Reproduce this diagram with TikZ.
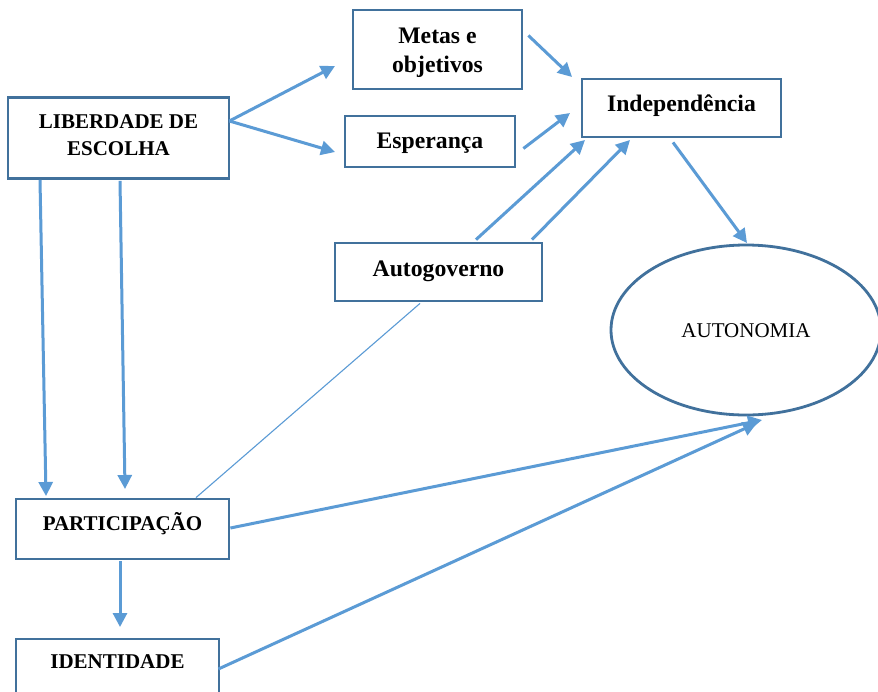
\documentclass[tikz,border=0pt]{standalone}
\usepackage{fontspec}
\setmainfont{Liberation Serif}
\usetikzlibrary{arrows.meta,shapes.geometric,calc}
\definecolor{arr}{HTML}{5B9BD5}
\definecolor{bord}{HTML}{41719C}
\newcommand{\placetext}[2]{\smash{\raisebox{#1}{#2}}}
\begin{document}
\begin{tikzpicture}[x=1pt,y=-1pt,
 box/.style={draw=bord,line width=2.8pt,rectangle,inner sep=0pt,align=center,font=\fontsize{23.7}{29.4}\selectfont\bfseries},
 capbox/.style={box,font=\fontsize{21}{26.7}\selectfont\bfseries},
 arrow/.style={draw=arr,line width=3pt,-{Triangle[length=14pt,width=14pt]}},
 thinline/.style={draw=arr,line width=1.1pt}]
\useasboundingbox (0,0) rectangle (878,691);
\clip (0,0) rectangle (878,691);
\fill[white] (0,0) rectangle (878,691);
% nodes
\node[capbox,minimum width=221pt,minimum height=81pt] (lib) at (118.5,138) {\placetext{-17pt}{\begin{tabular}[b]{@{}c@{}}LIBERDADE DE\\ESCOLHA\end{tabular}}};
\node[box,minimum width=169pt,minimum height=79pt] (metas) at (437.5,49.5) {\placetext{-23.2pt}{\begin{tabular}[b]{@{}c@{}}Metas e\\objetivos\end{tabular}}};
\node[box,minimum width=170pt,minimum height=51pt] (esp) at (430,141.5) {\placetext{-6.8pt}{Esperança}};
\node[box,minimum width=199pt,minimum height=58pt] (indep) at (681.5,108) {\placetext{-3.7pt}{Independência}};
\node[box,minimum width=207pt,minimum height=58pt] (auto) at (438.5,272) {\placetext{-4pt}{Autogoverno}};
\node[draw=bord,line width=2.8pt,ellipse,inner sep=0pt,minimum width=270pt,minimum height=170pt,font=\fontsize{21}{25}\selectfont] (auton) at (746,330) {\placetext{-7.7pt}{AUTONOMIA}};
\node[capbox,minimum width=213pt,minimum height=60pt] (part) at (122.5,529) {\placetext{-1pt}{PARTICIPAÇÃO}};
\node[capbox,minimum width=203pt,minimum height=64pt] (ident) at (117.5,671) {\placetext{2.7pt}{IDENTIDADE}};
% arrow tips
\coordinate (t1) at (335,66);
\coordinate (t2) at (335,152);
\coordinate (t3) at (572,77);
\coordinate (t4) at (570,113);
\coordinate (t5) at (585,140);
\coordinate (t6) at (630,140);
\coordinate (t7) at (747,243);
\coordinate (t8) at (46,496);
\coordinate (t9) at (125,489);
\coordinate (t11) at (762,420);
\coordinate (t13) at (757,423);
\coordinate (t12) at (120,627);
% connectors
\draw[arrow] ($(lib.east)+(-1,-17)$) -- (t1);
\draw[arrow] ($(lib.east)+(-1,-17)$) -- (t2);
\draw[arrow] ($(metas.east)+(5,-14)$) -- (t3);
\draw[arrow] ($(esp.east)+(7,7)$) -- (t4);
\draw[arrow] ($(auto.north)+(37.5,-2)$) -- (t5);
\draw[arrow] ($(auto.north)+(93.5,-2)$) -- (t6);
\draw[arrow] ($(indep.south)+(-8.5,4)$) -- (t7);
\draw[arrow] ($(lib.south)+(-78.5,0)$) -- (t8);
\draw[arrow] ($(lib.south)+(1.5,1)$) -- (t9);
\draw[thinline] ($(auto.south)+(-18.5,1)$) -- ($(part.north)+(73.5,0)$);
\draw[arrow] ($(part.east)+(0,-1)$) -- (t11);
\draw[arrow] ($(part.south)+(-2.5,1)$) -- (t12);
\draw[arrow] ($(ident.east)+(-2,-2)$) -- (t13);
\end{tikzpicture}
\end{document}
